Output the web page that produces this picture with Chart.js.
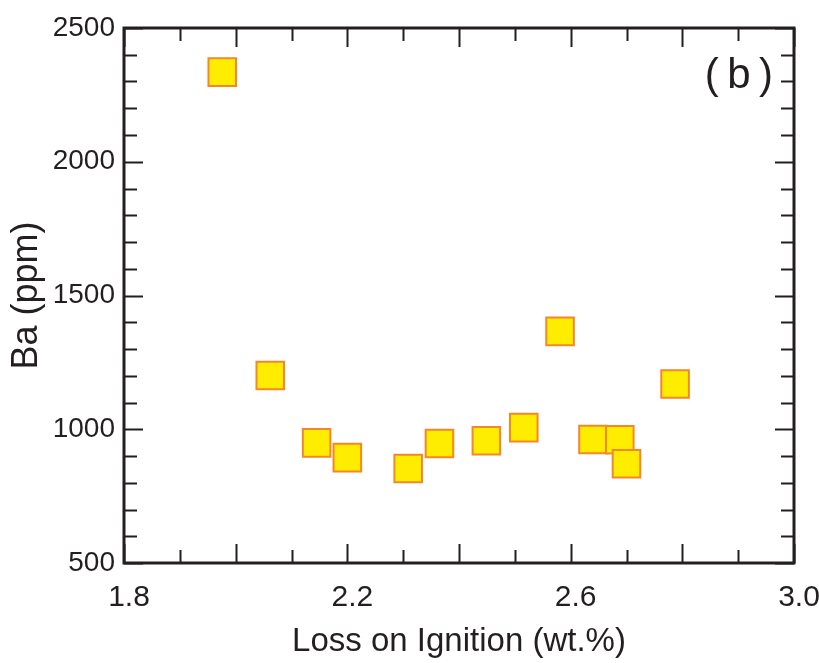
<!DOCTYPE html>
<html>
<head>
<meta charset="utf-8">
<script src="https://cdn.jsdelivr.net/npm/chart.js@4.4.1/dist/chart.umd.min.js"></script>
<style>
  body { margin: 0; background: #fff; }
  #wrap { width: 819px; height: 663px; }
</style>
</head>
<body>
<div id="wrap"><canvas id="baChart" width="819" height="663"></canvas></div>
<script>
// Loss on ignition (wt.%) vs Ba (ppm)
const loiValues = [1.976, 2.062, 2.145, 2.200, 2.309, 2.365, 2.449, 2.516, 2.581, 2.640, 2.688, 2.700, 2.787];
const baValues  = [2335, 1201, 949, 894, 853, 947, 957, 1006, 1366, 962, 961, 871, 1169];

const xTickLabels = [1.8, 2.2, 2.6, 3.0];
const yTickLabels = [500, 1000, 1500, 2000, 2500];

const inkColor = '#231F20';
const fontFamily = '"Liberation Sans", Arial, sans-serif';

// frame + inside ticks on all four sides, plus the panel letter
const framePlugin = {
    id: 'frame',
    afterDraw(chart) {
        const ctx = chart.ctx;
        const a = chart.chartArea;
        const xs = chart.scales.x;
        const ys = chart.scales.y;
        ctx.save();
        ctx.strokeStyle = inkColor;

        // tick marks
        ctx.lineWidth = 2;
        for (let i = 0; i <= 12; i++) {
            const v = 1.8 + i * 0.1;
            const px = Math.round(xs.getPixelForValue(v)) + 0.5;
            const len = (i % 2 === 0) ? 19 : 13;
            ctx.beginPath();
            ctx.moveTo(px, a.bottom);
            ctx.lineTo(px, a.bottom - len);
            ctx.moveTo(px, a.top);
            ctx.lineTo(px, a.top + len);
            ctx.stroke();
        }
        for (let i = 0; i <= 20; i++) {
            const v = 500 + i * 100;
            const py = Math.round(ys.getPixelForValue(v)) + 0.5;
            const len = (i % 5 === 0) ? 19 : 13;
            ctx.beginPath();
            ctx.moveTo(a.left, py);
            ctx.lineTo(a.left + len, py);
            ctx.moveTo(a.right, py);
            ctx.lineTo(a.right - len, py);
            ctx.stroke();
        }

        // frame
        ctx.lineWidth = 3;
        ctx.strokeRect(a.left, a.top, a.right - a.left, a.bottom - a.top);

        // panel label
        ctx.fillStyle = inkColor;
        ctx.font = '42px ' + fontFamily;
        ctx.textAlign = 'right';
        ctx.textBaseline = 'middle';
        ctx.fillText('(\u2009b\u2009)', a.right - 21, a.top + 48);
        ctx.restore();
    }
};

const ctx = document.getElementById('baChart').getContext('2d');
const baChart = new Chart(ctx, {
    type: 'scatter',
    data: {
        datasets: [{
            data: loiValues.map((x, i) => ({ x: x, y: baValues[i] })),
            pointStyle: 'rect',
            pointRadius: 19.5,
            pointHoverRadius: 19.5,
            backgroundColor: '#FFED00',
            borderColor: '#F5862A',
            borderWidth: 2
        }]
    },
    options: {
        responsive: false,
        animation: false,
        layout: { padding: { top: 28, right: 25, left: 0, bottom: 0 } },
        plugins: {
            legend: { display: false },
            tooltip: { enabled: false }
        },
        scales: {
            x: {
                type: 'linear',
                min: 1.8,
                max: 3.0,
                afterBuildTicks: (scale) => { scale.ticks = xTickLabels.map(v => ({ value: v })); },
                afterFit: (scale) => {
                    scale.height = 100;
                    scale.paddingLeft = 0;
                    scale.paddingRight = 0;
                },
                grid: { display: false, drawTicks: false },
                border: { display: false },
                ticks: {
                    color: inkColor,
                    font: { family: fontFamily, size: 30 },
                    padding: 17,
                    labelOffset: 5,
                    maxRotation: 0,
                    callback: (v) => Number(v).toFixed(1)
                },
                title: {
                    display: true,
                    text: 'Loss on Ignition (wt.%)',
                    color: inkColor,
                    font: { family: fontFamily, size: 33 },
                    padding: { top: 0, bottom: 1 }
                }
            },
            y: {
                type: 'linear',
                min: 500,
                max: 2500,
                afterBuildTicks: (scale) => { scale.ticks = yTickLabels.map(v => ({ value: v })); },
                afterFit: (scale) => {
                    scale.width = 124;
                    scale.paddingTop = 0;
                    scale.paddingBottom = 0;
                },
                grid: { display: false, drawTicks: false },
                border: { display: false },
                ticks: {
                    color: inkColor,
                    font: { family: fontFamily, size: 28 },
                    padding: 9,
                    callback: (v) => String(v)
                },
                title: {
                    display: true,
                    text: 'Ba (ppm)',
                    color: inkColor,
                    font: { family: fontFamily, size: 36 },
                    padding: { top: 5, bottom: 0 }
                }
            }
        }
    },
    plugins: [framePlugin]
});
</script>
</body>
</html>
